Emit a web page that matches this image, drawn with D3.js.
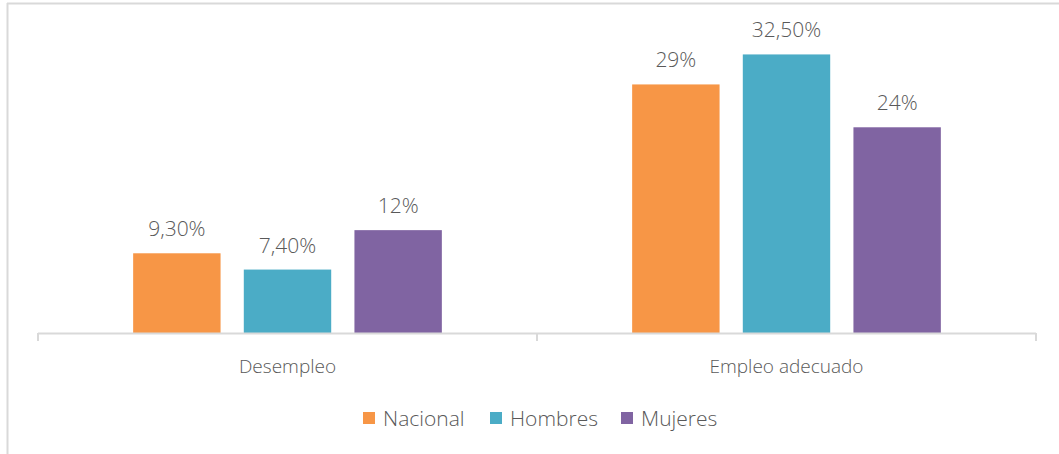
<!DOCTYPE html>
<html><head><meta charset="utf-8">
<script src="https://cdn.jsdelivr.net/npm/d3@7"></script>
<style>
html,body{margin:0;padding:0;background:#fff;}
text{font-family:"Open Sans",sans-serif;fill:#595959;font-weight:300;}
</style></head>
<body><svg id="c" width="1059" height="454"></svg>
<script>
const categories = ["Desempleo", "Empleo adecuado"];
const seriesNames = ["Nacional", "Hombres", "Mujeres"];
const nacional = [9.3, 29];
const hombres = [7.4, 32.5];
const mujeres = [12, 24];
const valueLabels = [["9,30%", "29%"], ["7,40%", "32,50%"], ["12%", "24%"]];
const colors = ["#F79646", "#4BACC6", "#8064A2"];

const seriesValues = [nacional, hombres, mujeres];
const svg = d3.select("#c");

// frame
svg.append("line").attr("x1",7).attr("x2",1059).attr("y1",3.5).attr("y2",3.5).attr("stroke","#d9d9d9").attr("stroke-width",2);
svg.append("line").attr("x1",7.5).attr("x2",7.5).attr("y1",3).attr("y2",454).attr("stroke","#d9d9d9").attr("stroke-width",2);

const x0 = d3.scaleBand().domain(categories).range([38, 1036]).paddingInner(0).paddingOuter(0);
const x1 = d3.scaleBand().domain(seriesNames).range([0, x0.bandwidth()]).paddingInner(0.21).paddingOuter(0.86);
const y = d3.scaleLinear().domain([0, 35]).range([333, 33]);

const g = svg.append("g");
categories.forEach((cat, ci) => {
  seriesNames.forEach((s, si) => {
    const v = seriesValues[si][ci];
    const bx = x0(cat) + x1(s);
    g.append("rect").attr("x", bx).attr("y", y(v)).attr("width", x1.bandwidth()).attr("height", y(0) - y(v))
      .attr("fill", colors[si]);
    g.append("text").attr("x", bx + x1.bandwidth()/2).attr("y", y(v) - 17)
      .attr("text-anchor","middle").attr("font-size", 21).text(valueLabels[si][ci]);
  });
});

// axis
const axis = d3.axisBottom(x0).tickSize(0).tickPadding(0);
const ax = svg.append("g").attr("transform","translate(0,333)");
ax.append("line").attr("x1",38).attr("x2",1036).attr("y1",0.5).attr("y2",0.5).attr("stroke","#d9d9d9").attr("stroke-width",2);
[38, 537, 1036].forEach(tx => {
  ax.append("line").attr("x1",tx).attr("x2",tx).attr("y1",0).attr("y2",8).attr("stroke","#d9d9d9").attr("stroke-width",2);
});
const axg = svg.append("g").attr("transform","translate(0,373)").call(axis);
axg.select(".domain").remove();
axg.selectAll("text").attr("font-size",19).attr("dy",0).style("font-family","'Open Sans',sans-serif").style("font-weight",300).attr("fill","#595959");

// legend
const legX = [363, 490, 621];
const leg = svg.append("g");
seriesNames.forEach((s, i) => {
  leg.append("rect").attr("x", legX[i]).attr("y", 412).attr("width", 12).attr("height", 12).attr("fill", colors[i]);
  leg.append("text").attr("x", legX[i] + 20).attr("y", 426).attr("font-size", 21).text(s);
});
</script></body></html>
